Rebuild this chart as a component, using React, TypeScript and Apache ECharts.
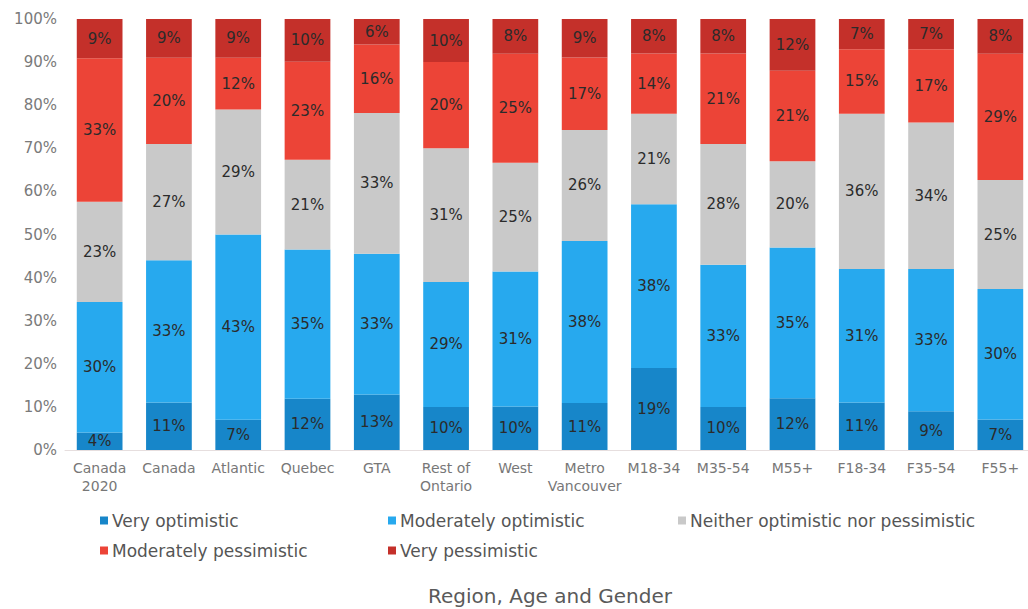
import React, { useEffect, useRef } from "react";
import * as echarts from "echarts";

const categories = [
  "Canada\n2020", "Canada", "Atlantic", "Quebec", "GTA", "Rest of\nOntario", "West",
  "Metro\nVancouver", "M18-34", "M35-54", "M55+", "F18-34", "F35-54", "F55+",
];
const seriesNames = [
  "Very optimistic",
  "Moderately optimistic",
  "Neither optimistic nor pessimistic",
  "Moderately pessimistic",
  "Very pessimistic",
];
const veryOptimistic = [4, 11, 7, 12, 13, 10, 10, 11, 19, 10, 12, 11, 9, 7];
const moderatelyOptimistic = [30, 33, 43, 35, 33, 29, 31, 38, 38, 33, 35, 31, 33, 30];
const neither = [23, 27, 29, 21, 33, 31, 25, 26, 21, 28, 20, 36, 34, 25];
const moderatelyPessimistic = [33, 20, 12, 23, 16, 20, 25, 17, 14, 21, 21, 15, 17, 29];
const veryPessimistic = [9, 9, 9, 10, 6, 10, 8, 9, 8, 8, 12, 7, 7, 8];
const yTicks = [0, 10, 20, 30, 40, 50, 60, 70, 80, 90, 100];

const colors = ["#1786c9", "#27a9ee", "#c9c9c9", "#ec4437", "#c4302a"];
const FONT = "'DejaVu Sans', 'Open Sans', sans-serif";

export default function App() {
  const ref = useRef<HTMLDivElement>(null);
  useEffect(() => {
    document.body.style.margin = "0";
    if (!ref.current) return;
    const chart = echarts.init(ref.current, undefined, { renderer: "svg" });
    const raw = [veryOptimistic, moderatelyOptimistic, neither, moderatelyPessimistic, veryPessimistic];
    const totals = categories.map((_, i) => raw.reduce((s, arr) => s + arr[i], 0));
    const legendPos = [
      { left: 95, top: 507 },
      { left: 383, top: 507 },
      { left: 673, top: 507 },
      { left: 95, top: 537 },
      { left: 383, top: 537 },
    ];
    chart.setOption({
      animation: false,
      grid: { left: 65, right: -7, top: 19, bottom: 159, containLabel: false, outerBoundsMode: "none" },
      legend: seriesNames.map((n, i) => ({
        data: [n],
        left: legendPos[i].left,
        top: legendPos[i].top,
        icon: "rect",
        itemWidth: 8,
        itemHeight: 8,
        itemGap: 4,
        textStyle: { fontFamily: FONT, fontSize: 17, color: "#555", padding: [0, 0, 0, -1] },
      })),
      xAxis: {
        type: "category",
        data: categories,
        axisLine: { show: true, lineStyle: { color: "#e6dede", width: 1 } },
        axisTick: { show: false },
        axisLabel: { fontFamily: FONT, fontSize: 14, color: "#777", margin: 9, lineHeight: 18, interval: 0 },
        name: "Region, Age and Gender",
        nameLocation: "middle",
        nameGap: 136,
        nameTextStyle: { fontFamily: FONT, fontSize: 20, color: "#5a5a5a" },
      },
      yAxis: {
        type: "value",
        min: 0,
        max: 100,
        interval: 10,
        axisLine: { show: false },
        axisTick: { show: false },
        splitLine: { show: false },
        axisLabel: {
          fontFamily: FONT,
          fontSize: 15,
          color: "#7a7a7a",
          margin: 8,
          formatter: (v: number) => (yTicks.includes(v) ? v + "%" : ""),
        },
      },
      series: seriesNames.map((n, si) => ({
        name: n,
        type: "bar",
        stack: "total",
        barWidth: "66%",
        itemStyle: { color: colors[si] },
        label: {
          show: true,
          position: "inside",
          fontFamily: FONT,
          fontSize: 15,
          color: "#2b2b2b",
          formatter: (p: any) => raw[si][p.dataIndex] + "%",
        },
        data: raw[si].map((v, i) => (v / totals[i]) * 100),
      })),
    });
    return () => chart.dispose();
  }, []);
  return <div ref={ref} style={{ width: 1028, height: 609 }} />;
}
